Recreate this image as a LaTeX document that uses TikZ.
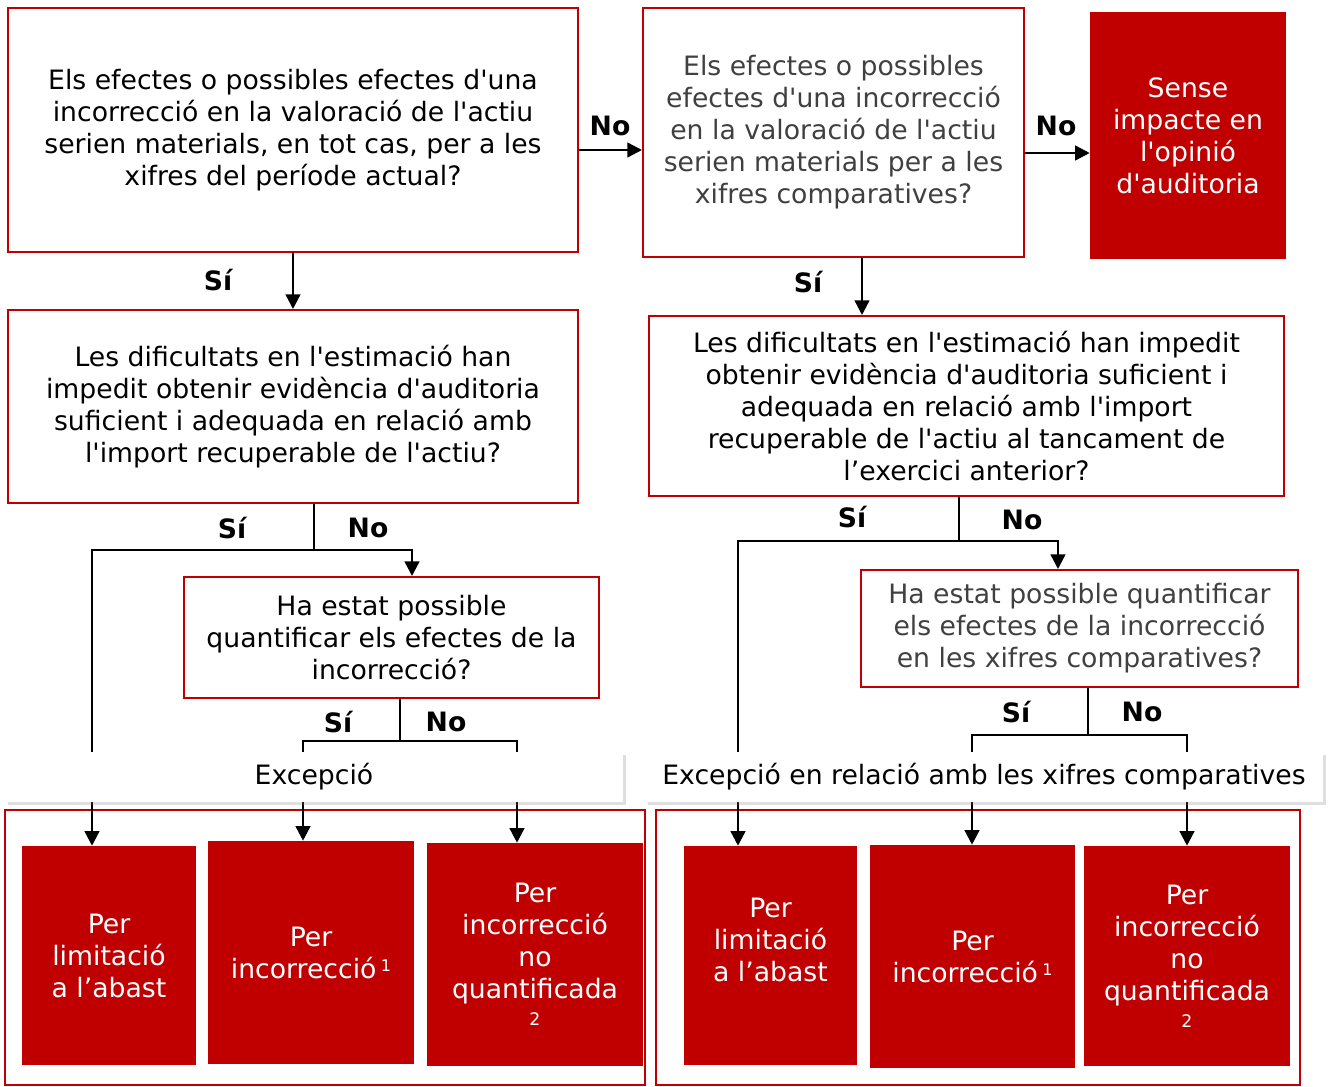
\documentclass[tikz,border=0pt]{standalone}
\usepackage{fontspec}
\setmainfont{DejaVu Sans}[Ligatures=TeXOff]
\usetikzlibrary{arrows.meta,calc,shadows}
\definecolor{myred}{HTML}{C00000}
\definecolor{txtgray}{HTML}{404040}
\newcommand\supone{\,\raisebox{5pt}{\fontsize{12}{12}\selectfont 1}}
\newcommand\suptwo{{\fontsize{13}{13}\selectfont 2}}
\begin{document}
\begin{tikzpicture}[x=0.75pt,y=-0.75pt,
  box/.style={draw=myred, line width=1.5pt, fill=white, align=center, inner sep=0pt,
    font=\fontsize{20}{24}\selectfont},
  graybox/.style={box, text=txtgray},
  redbox/.style={fill=myred, draw=none, text=white, align=center, inner sep=0pt,
    font=\fontsize{20}{24}\selectfont},
  whitetxt/.style={text=white, align=center, inner sep=0pt, font=\fontsize{20}{24}\selectfont},
  lbl/.style={inner sep=0pt, font=\bfseries\fontsize{20}{24}\selectfont},
  conn/.style={draw=black, line width=1.8pt},
  arr/.style={conn, -{Triangle[width=11pt,length=11pt]}},
  banner/.style={fill=white, draw=none, inner sep=0pt, minimum height=37.5pt,
    font=\fontsize{20}{24}\selectfont,
    drop shadow={shadow xshift=2.5pt, shadow yshift=-2.5pt, opacity=0.25}},
  container/.style={draw=myred, line width=1.5pt}
]
\useasboundingbox (0,0) rectangle (1329,1087);

% containers
\draw[container] (5,810) rectangle (645,1085);
\draw[container] (656,810) rectangle (1300,1085);

% question boxes
\node[box, minimum width=427.5pt, minimum height=183pt] (A) at (293,130)
  {Els efectes o possibles efectes d'una\\incorrecció en la valoració de l'actiu\\serien materials, en tot cas, per a les\\xifres del període actual?};
\node[graybox, minimum width=285.75pt, minimum height=186.75pt] (B) at (833.5,132.5)
  {Els efectes o possibles\\efectes d'una incorrecció\\en la valoració de l'actiu\\serien materials per a les\\xifres comparatives?};
\node[redbox, minimum width=147pt, minimum height=185.25pt] (C) at (1188,135.5)
  {Sense\\impacte en\\l'opinió\\d'auditoria};
\node[box, minimum width=427.5pt, minimum height=144.75pt] (D) at (293,406.5)
  {Les dificultats en l'estimació han\\impedit obtenir evidència d'auditoria\\suficient i adequada en relació amb\\l'import recuperable de l'actiu?};
\node[box, minimum width=476.25pt, minimum height=135pt] (E) at (966.5,406)
  {Les dificultats en l'estimació han impedit\\obtenir evidència d'auditoria suficient i\\adequada en relació amb l'import\\recuperable de l'actiu al tancament de\\l’exercici anterior?};
\node[box, minimum width=311.25pt, minimum height=90.75pt] (F) at (391.5,637.5)
  {Ha estat possible\\quantificar els efectes de la\\incorrecció?};
\node[graybox, minimum width=327.75pt, minimum height=87.75pt] (G) at (1079.5,628.5)
  {Ha estat possible quantificar\\els efectes de la incorrecció\\en les xifres comparatives?};

% outcome boxes
\node[redbox, minimum width=130.5pt, minimum height=164.25pt] (L1) at (109,955.5)
  {Per\\limitació\\a l’abast};
\node[redbox, minimum width=154.5pt, minimum height=167.25pt] (L2) at (311,952.5)
  {Per\\incorrecció\supone};
\node[redbox, minimum width=162pt, minimum height=167.25pt] (L3) at (535,954.5)
  {Per\\incorrecció\\no\\quantificada\\[-4pt]\suptwo};
\node[redbox, minimum width=129.75pt, minimum height=164.25pt] (R1) at (770.5,955.5) {};
\node[whitetxt] (R1t) at (770.5,940) {Per\\limitació\\a l’abast};
\node[redbox, minimum width=153.75pt, minimum height=167.25pt] (R2) at (972.5,956.5)
  {Per\\incorrecció\supone};
\node[redbox, minimum width=154.5pt, minimum height=165pt] (R3) at (1187,956)
  {Per\\incorrecció\\no\\quantificada\\[-4pt]\suptwo};

% connectors
\draw[arr] (A.east |- 0,150) -- (B.west |- 0,150);
\draw[arr] (B.east |- 0,153) -- (C.west |- 0,153);
\draw[arr] (A.south) -- (D.north);
\draw[arr] (B.south -| 862,0) -- (E.north -| 862,0);

\coordinate (dj) at (314,550);
\draw[conn] (D.south -| dj) -- (dj);
\draw[arr] (dj) -| (L1.north -| 92,0);
\draw[arr] (dj) -| (F.north -| 412,0);

\coordinate (ej) at (959,541);
\draw[conn] (E.south -| ej) -- (ej);
\draw[arr] (ej) -| (R1.north -| 738,0);
\draw[arr] (ej) -| (G.north -| 1058,0);

\coordinate (fj) at (400,741);
\draw[conn] (F.south -| fj) -- (fj);
\draw[arr] (fj) -| (L2.north -| 303,0);
\draw[arr] (fj) -| (L3.north -| 517,0);

\coordinate (gj) at (1088,735);
\draw[conn] (G.south -| gj) -- (gj);
\draw[arr] (gj) -| (R2.north -| 972,0);
\draw[arr] (gj) -| (R3.north -| 1187,0);

% labels
\node[lbl] (l1) at (610,126) {No};
\node[lbl] (l2) at (1056,126) {No};
\node[lbl] (l3) at (218,280) {Sí};
\node[lbl] (l4) at (808,282) {Sí};
\node[lbl] (l5) at (232,528) {Sí};
\node[lbl] (l6) at (368,528) {No};
\node[lbl] (l7) at (852,517) {Sí};
\node[lbl] (l8) at (1022,520) {No};
\node[lbl] (l9) at (338,722) {Sí};
\node[lbl] (l10) at (446,722) {No};
\node[lbl] (l11) at (1016,712) {Sí};
\node[lbl] (l12) at (1142,712) {No};

% banners
\node[banner, minimum width=463.5pt] (exL) at (314,777) {Excepció};
\node[banner, minimum width=508.5pt] (exR) at (984,777) {Excepció en relació amb les xifres comparatives};
\end{tikzpicture}
\end{document}
